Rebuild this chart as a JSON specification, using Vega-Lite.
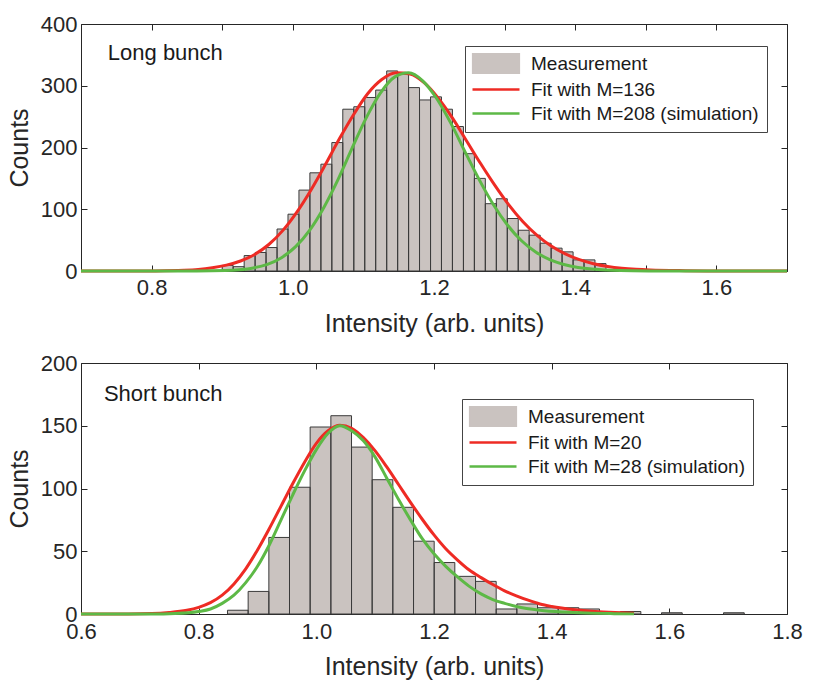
{
  "$schema": "https://vega.github.io/schema/vega-lite/v6.json",
  "background": "white",
  "padding": {"top": 12, "left": 6, "right": 0, "bottom": 0},
  "config": {
    "font": "Liberation Sans",
    "view": {"stroke": "#262626", "strokeWidth": 1},
    "axis": {
      "domain": false,
      "grid": false,
      "tickColor": "#262626",
      "tickSize": -6,
      "tickWidth": 1,
      "labelFont": "Liberation Sans",
      "labelFontSize": 22,
      "labelColor": "#262626",
      "labelPadding": 10,
      "labelOverlap": false,
      "labelFlush": false,
      "titleFont": "Liberation Sans",
      "titleFontSize": 25,
      "titleFontWeight": "normal",
      "titleColor": "#262626"
    },
    "legend": {
      "title": null,
      "orient": "none",
      "labelFont": "Liberation Sans",
      "labelFontSize": 19,
      "labelColor": "#1a1a1a",
      "labelLimit": 0,
      "symbolSize": 400,
      "symbolType": {"expr": "datum.value === 'Measurement' ? 'M-1,-1H3.7V1H-1Z' : 'M-1,0H3.7'"},
      "symbolStrokeWidth": {"expr": "datum.value === 'Measurement' ? 1.2 : 2.5"},
      "symbolStrokeColor": {"expr": "datum.value === 'Measurement' ? '#3a3a3a' : indexof(datum.value, 'simulation') >= 0 ? '#5db946' : '#ee2b24'"},
      "labelOffset": 39,
      "rowPadding": 4,
      "padding": 8,
      "strokeColor": "#444444",
      "fillColor": "white"
    }
  },
  "datasets": {
    "long_hist": [
      {"lo": 0.9000, "hi": 0.9155, "count": 9, "series": "Measurement"},
      {"lo": 0.9155, "hi": 0.9311, "count": 7, "series": "Measurement"},
      {"lo": 0.9311, "hi": 0.9466, "count": 25, "series": "Measurement"},
      {"lo": 0.9466, "hi": 0.9621, "count": 30, "series": "Measurement"},
      {"lo": 0.9621, "hi": 0.9777, "count": 38, "series": "Measurement"},
      {"lo": 0.9777, "hi": 0.9932, "count": 68, "series": "Measurement"},
      {"lo": 0.9932, "hi": 1.0087, "count": 92, "series": "Measurement"},
      {"lo": 1.0087, "hi": 1.0242, "count": 131, "series": "Measurement"},
      {"lo": 1.0242, "hi": 1.0398, "count": 159, "series": "Measurement"},
      {"lo": 1.0398, "hi": 1.0553, "count": 173, "series": "Measurement"},
      {"lo": 1.0553, "hi": 1.0708, "count": 208, "series": "Measurement"},
      {"lo": 1.0708, "hi": 1.0864, "count": 262, "series": "Measurement"},
      {"lo": 1.0864, "hi": 1.1019, "count": 266, "series": "Measurement"},
      {"lo": 1.1019, "hi": 1.1174, "count": 281, "series": "Measurement"},
      {"lo": 1.1174, "hi": 1.1330, "count": 293, "series": "Measurement"},
      {"lo": 1.1330, "hi": 1.1485, "count": 324, "series": "Measurement"},
      {"lo": 1.1485, "hi": 1.1640, "count": 319, "series": "Measurement"},
      {"lo": 1.1640, "hi": 1.1795, "count": 297, "series": "Measurement"},
      {"lo": 1.1795, "hi": 1.1951, "count": 277, "series": "Measurement"},
      {"lo": 1.1951, "hi": 1.2106, "count": 282, "series": "Measurement"},
      {"lo": 1.2106, "hi": 1.2261, "count": 262, "series": "Measurement"},
      {"lo": 1.2261, "hi": 1.2417, "count": 234, "series": "Measurement"},
      {"lo": 1.2417, "hi": 1.2572, "count": 190, "series": "Measurement"},
      {"lo": 1.2572, "hi": 1.2727, "count": 150, "series": "Measurement"},
      {"lo": 1.2727, "hi": 1.2883, "count": 109, "series": "Measurement"},
      {"lo": 1.2883, "hi": 1.3038, "count": 117, "series": "Measurement"},
      {"lo": 1.3038, "hi": 1.3193, "count": 85, "series": "Measurement"},
      {"lo": 1.3193, "hi": 1.3348, "count": 66, "series": "Measurement"},
      {"lo": 1.3348, "hi": 1.3504, "count": 58, "series": "Measurement"},
      {"lo": 1.3504, "hi": 1.3659, "count": 45, "series": "Measurement"},
      {"lo": 1.3659, "hi": 1.3814, "count": 37, "series": "Measurement"},
      {"lo": 1.3814, "hi": 1.3970, "count": 31, "series": "Measurement"},
      {"lo": 1.3970, "hi": 1.4125, "count": 18, "series": "Measurement"},
      {"lo": 1.4125, "hi": 1.4280, "count": 18, "series": "Measurement"},
      {"lo": 1.4280, "hi": 1.4436, "count": 12, "series": "Measurement"}
    ],
    "long_fit": [
      {"intensity": 0.70, "counts": 0, "series": "Fit with M=136"},
      {"intensity": 0.76, "counts": 0.01, "series": "Fit with M=136"},
      {"intensity": 0.806, "counts": 0.2, "series": "Fit with M=136"},
      {"intensity": 0.846, "counts": 1.1, "series": "Fit with M=136"},
      {"intensity": 0.866, "counts": 2.4, "series": "Fit with M=136"},
      {"intensity": 0.886, "counts": 5.2, "series": "Fit with M=136"},
      {"intensity": 0.906, "counts": 9.5, "series": "Fit with M=136"},
      {"intensity": 0.926, "counts": 16.2, "series": "Fit with M=136"},
      {"intensity": 0.946, "counts": 26.8, "series": "Fit with M=136"},
      {"intensity": 0.966, "counts": 42.9, "series": "Fit with M=136"},
      {"intensity": 0.986, "counts": 65.8, "series": "Fit with M=136"},
      {"intensity": 1.006, "counts": 95.8, "series": "Fit with M=136"},
      {"intensity": 1.026, "counts": 131.7, "series": "Fit with M=136"},
      {"intensity": 1.046, "counts": 172, "series": "Fit with M=136"},
      {"intensity": 1.066, "counts": 214, "series": "Fit with M=136"},
      {"intensity": 1.086, "counts": 253, "series": "Fit with M=136"},
      {"intensity": 1.106, "counts": 287, "series": "Fit with M=136"},
      {"intensity": 1.126, "counts": 310, "series": "Fit with M=136"},
      {"intensity": 1.146, "counts": 321, "series": "Fit with M=136"},
      {"intensity": 1.166, "counts": 319, "series": "Fit with M=136"},
      {"intensity": 1.186, "counts": 305, "series": "Fit with M=136"},
      {"intensity": 1.206, "counts": 280, "series": "Fit with M=136"},
      {"intensity": 1.226, "counts": 248, "series": "Fit with M=136"},
      {"intensity": 1.246, "counts": 211, "series": "Fit with M=136"},
      {"intensity": 1.266, "counts": 174, "series": "Fit with M=136"},
      {"intensity": 1.286, "counts": 139, "series": "Fit with M=136"},
      {"intensity": 1.306, "counts": 107, "series": "Fit with M=136"},
      {"intensity": 1.326, "counts": 79.6, "series": "Fit with M=136"},
      {"intensity": 1.346, "counts": 57.6, "series": "Fit with M=136"},
      {"intensity": 1.366, "counts": 40.4, "series": "Fit with M=136"},
      {"intensity": 1.386, "counts": 27.6, "series": "Fit with M=136"},
      {"intensity": 1.406, "counts": 18.3, "series": "Fit with M=136"},
      {"intensity": 1.426, "counts": 11.8, "series": "Fit with M=136"},
      {"intensity": 1.446, "counts": 7.4, "series": "Fit with M=136"},
      {"intensity": 1.466, "counts": 4.5, "series": "Fit with M=136"},
      {"intensity": 1.486, "counts": 2.7, "series": "Fit with M=136"},
      {"intensity": 1.506, "counts": 1.6, "series": "Fit with M=136"},
      {"intensity": 1.556, "counts": 0.5, "series": "Fit with M=136"},
      {"intensity": 1.606, "counts": 0.1, "series": "Fit with M=136"},
      {"intensity": 1.65, "counts": 0, "series": "Fit with M=136"},
      {"intensity": 1.70, "counts": 0, "series": "Fit with M=136"},
      {"intensity": 0.70, "counts": 0, "series": "Fit with M=208 (simulation)"},
      {"intensity": 0.80, "counts": 0, "series": "Fit with M=208 (simulation)"},
      {"intensity": 0.864, "counts": 0.08, "series": "Fit with M=208 (simulation)"},
      {"intensity": 0.904, "counts": 0.78, "series": "Fit with M=208 (simulation)"},
      {"intensity": 0.924, "counts": 2.07, "series": "Fit with M=208 (simulation)"},
      {"intensity": 0.944, "counts": 4.96, "series": "Fit with M=208 (simulation)"},
      {"intensity": 0.964, "counts": 10.8, "series": "Fit with M=208 (simulation)"},
      {"intensity": 0.984, "counts": 21.6, "series": "Fit with M=208 (simulation)"},
      {"intensity": 1.004, "counts": 39.4, "series": "Fit with M=208 (simulation)"},
      {"intensity": 1.024, "counts": 66.3, "series": "Fit with M=208 (simulation)"},
      {"intensity": 1.044, "counts": 103, "series": "Fit with M=208 (simulation)"},
      {"intensity": 1.064, "counts": 148, "series": "Fit with M=208 (simulation)"},
      {"intensity": 1.084, "counts": 199, "series": "Fit with M=208 (simulation)"},
      {"intensity": 1.104, "counts": 248, "series": "Fit with M=208 (simulation)"},
      {"intensity": 1.124, "counts": 288, "series": "Fit with M=208 (simulation)"},
      {"intensity": 1.144, "counts": 314, "series": "Fit with M=208 (simulation)"},
      {"intensity": 1.164, "counts": 321, "series": "Fit with M=208 (simulation)"},
      {"intensity": 1.184, "counts": 308, "series": "Fit with M=208 (simulation)"},
      {"intensity": 1.204, "counts": 279, "series": "Fit with M=208 (simulation)"},
      {"intensity": 1.224, "counts": 239, "series": "Fit with M=208 (simulation)"},
      {"intensity": 1.244, "counts": 193, "series": "Fit with M=208 (simulation)"},
      {"intensity": 1.264, "counts": 148, "series": "Fit with M=208 (simulation)"},
      {"intensity": 1.284, "counts": 107.6, "series": "Fit with M=208 (simulation)"},
      {"intensity": 1.304, "counts": 74.5, "series": "Fit with M=208 (simulation)"},
      {"intensity": 1.324, "counts": 49, "series": "Fit with M=208 (simulation)"},
      {"intensity": 1.344, "counts": 30.8, "series": "Fit with M=208 (simulation)"},
      {"intensity": 1.364, "counts": 18.4, "series": "Fit with M=208 (simulation)"},
      {"intensity": 1.384, "counts": 10.6, "series": "Fit with M=208 (simulation)"},
      {"intensity": 1.404, "counts": 5.8, "series": "Fit with M=208 (simulation)"},
      {"intensity": 1.424, "counts": 3.05, "series": "Fit with M=208 (simulation)"},
      {"intensity": 1.444, "counts": 1.54, "series": "Fit with M=208 (simulation)"},
      {"intensity": 1.464, "counts": 0.75, "series": "Fit with M=208 (simulation)"},
      {"intensity": 1.504, "counts": 0.15, "series": "Fit with M=208 (simulation)"},
      {"intensity": 1.55, "counts": 0, "series": "Fit with M=208 (simulation)"},
      {"intensity": 1.70, "counts": 0, "series": "Fit with M=208 (simulation)"}
    ],
    "short_hist": [
      {"lo": 0.8490, "hi": 0.8841, "count": 3, "series": "Measurement"},
      {"lo": 0.8841, "hi": 0.9193, "count": 18, "series": "Measurement"},
      {"lo": 0.9193, "hi": 0.9544, "count": 61, "series": "Measurement"},
      {"lo": 0.9544, "hi": 0.9895, "count": 101, "series": "Measurement"},
      {"lo": 0.9895, "hi": 1.0247, "count": 149, "series": "Measurement"},
      {"lo": 1.0247, "hi": 1.0598, "count": 158, "series": "Measurement"},
      {"lo": 1.0598, "hi": 1.0949, "count": 133, "series": "Measurement"},
      {"lo": 1.0949, "hi": 1.1300, "count": 107, "series": "Measurement"},
      {"lo": 1.1300, "hi": 1.1652, "count": 85, "series": "Measurement"},
      {"lo": 1.1652, "hi": 1.2003, "count": 58, "series": "Measurement"},
      {"lo": 1.2003, "hi": 1.2354, "count": 41, "series": "Measurement"},
      {"lo": 1.2354, "hi": 1.2706, "count": 30, "series": "Measurement"},
      {"lo": 1.2706, "hi": 1.3057, "count": 26, "series": "Measurement"},
      {"lo": 1.3057, "hi": 1.3408, "count": 4, "series": "Measurement"},
      {"lo": 1.3408, "hi": 1.3760, "count": 8, "series": "Measurement"},
      {"lo": 1.3760, "hi": 1.4111, "count": 5, "series": "Measurement"},
      {"lo": 1.4111, "hi": 1.4462, "count": 5, "series": "Measurement"},
      {"lo": 1.4462, "hi": 1.4813, "count": 4, "series": "Measurement"},
      {"lo": 1.4813, "hi": 1.5165, "count": 1, "series": "Measurement"},
      {"lo": 1.5165, "hi": 1.5516, "count": 2, "series": "Measurement"},
      {"lo": 1.5867, "hi": 1.6219, "count": 1, "series": "Measurement"},
      {"lo": 1.6921, "hi": 1.7273, "count": 1, "series": "Measurement"}
    ],
    "short_fit": [
      {"intensity": 0.60, "counts": 0, "series": "Fit with M=20"},
      {"intensity": 0.68, "counts": 0, "series": "Fit with M=20"},
      {"intensity": 0.72, "counts": 0.3, "series": "Fit with M=20"},
      {"intensity": 0.75, "counts": 1.2, "series": "Fit with M=20"},
      {"intensity": 0.78, "counts": 3, "series": "Fit with M=20"},
      {"intensity": 0.80, "counts": 5.3, "series": "Fit with M=20"},
      {"intensity": 0.82, "counts": 9, "series": "Fit with M=20"},
      {"intensity": 0.84, "counts": 15, "series": "Fit with M=20"},
      {"intensity": 0.86, "counts": 24, "series": "Fit with M=20"},
      {"intensity": 0.88, "counts": 36, "series": "Fit with M=20"},
      {"intensity": 0.90, "counts": 51, "series": "Fit with M=20"},
      {"intensity": 0.92, "counts": 68, "series": "Fit with M=20"},
      {"intensity": 0.94, "counts": 86, "series": "Fit with M=20"},
      {"intensity": 0.96, "counts": 104, "series": "Fit with M=20"},
      {"intensity": 0.98, "counts": 121, "series": "Fit with M=20"},
      {"intensity": 1.00, "counts": 136, "series": "Fit with M=20"},
      {"intensity": 1.02, "counts": 146, "series": "Fit with M=20"},
      {"intensity": 1.04, "counts": 150.4, "series": "Fit with M=20"},
      {"intensity": 1.06, "counts": 148, "series": "Fit with M=20"},
      {"intensity": 1.08, "counts": 140.5, "series": "Fit with M=20"},
      {"intensity": 1.10, "counts": 130, "series": "Fit with M=20"},
      {"intensity": 1.12, "counts": 117, "series": "Fit with M=20"},
      {"intensity": 1.14, "counts": 103, "series": "Fit with M=20"},
      {"intensity": 1.16, "counts": 89, "series": "Fit with M=20"},
      {"intensity": 1.18, "counts": 75.5, "series": "Fit with M=20"},
      {"intensity": 1.20, "counts": 63, "series": "Fit with M=20"},
      {"intensity": 1.22, "counts": 52, "series": "Fit with M=20"},
      {"intensity": 1.24, "counts": 43, "series": "Fit with M=20"},
      {"intensity": 1.26, "counts": 35, "series": "Fit with M=20"},
      {"intensity": 1.28, "counts": 29, "series": "Fit with M=20"},
      {"intensity": 1.30, "counts": 23.5, "series": "Fit with M=20"},
      {"intensity": 1.32, "counts": 18.5, "series": "Fit with M=20"},
      {"intensity": 1.34, "counts": 14.5, "series": "Fit with M=20"},
      {"intensity": 1.36, "counts": 11, "series": "Fit with M=20"},
      {"intensity": 1.38, "counts": 8, "series": "Fit with M=20"},
      {"intensity": 1.40, "counts": 6, "series": "Fit with M=20"},
      {"intensity": 1.44, "counts": 3.4, "series": "Fit with M=20"},
      {"intensity": 1.48, "counts": 1.8, "series": "Fit with M=20"},
      {"intensity": 1.52, "counts": 0.9, "series": "Fit with M=20"},
      {"intensity": 1.54, "counts": 0.6, "series": "Fit with M=20"},
      {"intensity": 0.60, "counts": 0, "series": "Fit with M=28 (simulation)"},
      {"intensity": 0.72, "counts": 0, "series": "Fit with M=28 (simulation)"},
      {"intensity": 0.76, "counts": 0.4, "series": "Fit with M=28 (simulation)"},
      {"intensity": 0.80, "counts": 2, "series": "Fit with M=28 (simulation)"},
      {"intensity": 0.82, "counts": 4, "series": "Fit with M=28 (simulation)"},
      {"intensity": 0.84, "counts": 8.5, "series": "Fit with M=28 (simulation)"},
      {"intensity": 0.86, "counts": 15, "series": "Fit with M=28 (simulation)"},
      {"intensity": 0.88, "counts": 25, "series": "Fit with M=28 (simulation)"},
      {"intensity": 0.90, "counts": 38, "series": "Fit with M=28 (simulation)"},
      {"intensity": 0.92, "counts": 55, "series": "Fit with M=28 (simulation)"},
      {"intensity": 0.94, "counts": 75, "series": "Fit with M=28 (simulation)"},
      {"intensity": 0.96, "counts": 95, "series": "Fit with M=28 (simulation)"},
      {"intensity": 0.98, "counts": 114, "series": "Fit with M=28 (simulation)"},
      {"intensity": 1.00, "counts": 131, "series": "Fit with M=28 (simulation)"},
      {"intensity": 1.02, "counts": 144, "series": "Fit with M=28 (simulation)"},
      {"intensity": 1.04, "counts": 150, "series": "Fit with M=28 (simulation)"},
      {"intensity": 1.06, "counts": 146, "series": "Fit with M=28 (simulation)"},
      {"intensity": 1.08, "counts": 138, "series": "Fit with M=28 (simulation)"},
      {"intensity": 1.10, "counts": 125, "series": "Fit with M=28 (simulation)"},
      {"intensity": 1.12, "counts": 108, "series": "Fit with M=28 (simulation)"},
      {"intensity": 1.14, "counts": 91, "series": "Fit with M=28 (simulation)"},
      {"intensity": 1.16, "counts": 75, "series": "Fit with M=28 (simulation)"},
      {"intensity": 1.18, "counts": 60, "series": "Fit with M=28 (simulation)"},
      {"intensity": 1.20, "counts": 48, "series": "Fit with M=28 (simulation)"},
      {"intensity": 1.22, "counts": 38, "series": "Fit with M=28 (simulation)"},
      {"intensity": 1.24, "counts": 29.5, "series": "Fit with M=28 (simulation)"},
      {"intensity": 1.26, "counts": 22, "series": "Fit with M=28 (simulation)"},
      {"intensity": 1.28, "counts": 16, "series": "Fit with M=28 (simulation)"},
      {"intensity": 1.30, "counts": 11.5, "series": "Fit with M=28 (simulation)"},
      {"intensity": 1.32, "counts": 8.5, "series": "Fit with M=28 (simulation)"},
      {"intensity": 1.34, "counts": 6, "series": "Fit with M=28 (simulation)"},
      {"intensity": 1.38, "counts": 3, "series": "Fit with M=28 (simulation)"},
      {"intensity": 1.42, "counts": 1.5, "series": "Fit with M=28 (simulation)"},
      {"intensity": 1.46, "counts": 0.7, "series": "Fit with M=28 (simulation)"},
      {"intensity": 1.50, "counts": 0.3, "series": "Fit with M=28 (simulation)"},
      {"intensity": 1.54, "counts": 0.1, "series": "Fit with M=28 (simulation)"}
    ]
  },
  "spacing": 14,
  "vconcat": [
    {
      "width": 706,
      "height": 247,
      "layer": [
        {
          "data": {"name": "long_hist"},
          "mark": {"type": "rect"},
          "encoding": {
            "x": {
              "field": "lo", "type": "quantitative", "title": "Intensity (arb. units)",
              "scale": {"domain": [0.7, 1.7], "nice": false, "zero": false},
              "axis": {
                "values": [0.7, 0.8, 0.9, 1.0, 1.1, 1.2, 1.3, 1.4, 1.5, 1.6, 1.7],
                "labelExpr": "indexof(['0.8','1.0','1.2','1.4','1.6'], format(datum.value, '.1f')) >= 0 ? format(datum.value, '.1f') : ''",
                "labelPadding": 12,
                "titlePadding": 13
              }
            },
            "x2": {"field": "hi"},
            "y": {
              "field": "count", "type": "quantitative", "title": "Counts",
              "scale": {"domain": [0, 400], "nice": false},
              "axis": {"values": [0, 100, 200, 300, 400], "format": "d", "titlePadding": 8}
            },
            "y2": {"datum": 0},
            "color": {
              "field": "series", "type": "nominal",
              "scale": {
                "domain": ["Measurement", "Fit with M=136", "Fit with M=208 (simulation)"],
                "range": ["#cac3c0", "#ee2b24", "#5db946"]
              },
              "legend": {"legendX": 384, "legendY": 22}
            }
          }
        },
        {
          "data": {"name": "long_hist"},
          "mark": {"type": "rect", "filled": false, "stroke": "#3a3a3a", "strokeWidth": 1},
          "encoding": {
            "x": {"field": "lo", "type": "quantitative", "axis": null},
            "x2": {"field": "hi"},
            "y": {"field": "count", "type": "quantitative", "axis": null},
            "y2": {"datum": 0}
          }
        },
        {
          "data": {"name": "long_fit"},
          "mark": {"type": "line", "strokeWidth": 3, "interpolate": "monotone"},
          "encoding": {
            "x": {
              "field": "intensity", "type": "quantitative",
              "axis": {"orient": "top", "labels": false, "title": null, "values": [0.7, 0.8, 0.9, 1.0, 1.1, 1.2, 1.3, 1.4, 1.5, 1.6, 1.7]}
            },
            "y": {
              "field": "counts", "type": "quantitative",
              "axis": {"orient": "right", "labels": false, "title": null, "values": [0, 100, 200, 300, 400]}
            },
            "color": {"field": "series", "type": "nominal", "legend": null}
          }
        },
        {
          "data": {"values": [{"label": "Long bunch"}]},
          "mark": {"type": "text", "align": "left", "baseline": "alphabetic", "fontSize": 22, "fill": "#1a1a1a"},
          "encoding": {
            "x": {"datum": 0.738, "type": "quantitative", "axis": null},
            "y": {"datum": 341, "type": "quantitative", "axis": null},
            "text": {"field": "label"}
          }
        }
      ],
      "resolve": {"axis": {"x": "independent", "y": "independent"}}
    },
    {
      "width": 706,
      "height": 251,
      "layer": [
        {
          "data": {"name": "short_hist"},
          "mark": {"type": "rect"},
          "encoding": {
            "x": {
              "field": "lo", "type": "quantitative", "title": "Intensity (arb. units)",
              "scale": {"domain": [0.6, 1.8], "nice": false, "zero": false},
              "axis": {"values": [0.6, 0.8, 1.0, 1.2, 1.4, 1.6, 1.8], "format": ".1f", "labelPadding": 13, "titlePadding": 12}
            },
            "x2": {"field": "hi"},
            "y": {
              "field": "count", "type": "quantitative", "title": "Counts",
              "scale": {"domain": [0, 200], "nice": false},
              "axis": {"values": [0, 50, 100, 150, 200], "format": "d", "titlePadding": 8}
            },
            "y2": {"datum": 0},
            "color": {
              "field": "series", "type": "nominal",
              "scale": {
                "domain": ["Measurement", "Fit with M=20", "Fit with M=28 (simulation)"],
                "range": ["#cac3c0", "#ee2b24", "#5db946"]
              },
              "legend": {"legendX": 381, "legendY": 36}
            }
          }
        },
        {
          "data": {"name": "short_hist"},
          "mark": {"type": "rect", "filled": false, "stroke": "#3a3a3a", "strokeWidth": 1},
          "encoding": {
            "x": {"field": "lo", "type": "quantitative", "axis": null},
            "x2": {"field": "hi"},
            "y": {"field": "count", "type": "quantitative", "axis": null},
            "y2": {"datum": 0}
          }
        },
        {
          "data": {"name": "short_fit"},
          "mark": {"type": "line", "strokeWidth": 3, "interpolate": "monotone"},
          "encoding": {
            "x": {
              "field": "intensity", "type": "quantitative",
              "axis": {"orient": "top", "labels": false, "title": null, "values": [0.6, 0.8, 1.0, 1.2, 1.4, 1.6, 1.8]}
            },
            "y": {
              "field": "counts", "type": "quantitative",
              "axis": {"orient": "right", "labels": false, "title": null, "values": [0, 50, 100, 150, 200]}
            },
            "color": {"field": "series", "type": "nominal", "legend": null}
          }
        },
        {
          "data": {"values": [{"label": "Short bunch"}]},
          "mark": {"type": "text", "align": "left", "baseline": "alphabetic", "fontSize": 22, "fill": "#1a1a1a"},
          "encoding": {
            "x": {"datum": 0.639, "type": "quantitative", "axis": null},
            "y": {"datum": 169.6, "type": "quantitative", "axis": null},
            "text": {"field": "label"}
          }
        }
      ],
      "resolve": {"axis": {"x": "independent", "y": "independent"}}
    }
  ],
  "resolve": {
    "scale": {"x": "independent", "y": "independent", "color": "independent"},
    "legend": {"color": "independent"}
  }
}
